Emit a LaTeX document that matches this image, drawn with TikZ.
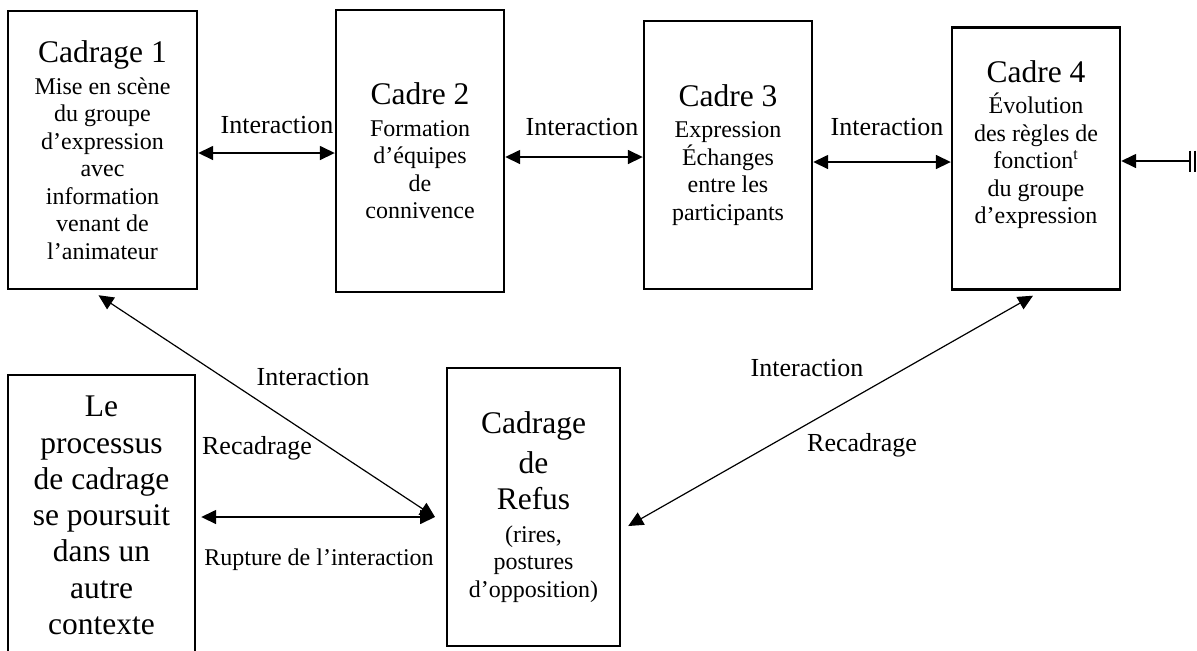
\documentclass[tikz,border=0pt]{standalone}
\usepackage{fontspec}
\setmainfont{Liberation Serif}
\usetikzlibrary{arrows.meta}
\newcommand{\cadretitre}{\fontsize{15.75}{18.15}\selectfont}
\newcommand{\cadretexte}{\fontsize{12}{13.75}\selectfont}
\newcommand{\etiqtexte}{\fontsize{13}{15}\selectfont}
\tikzset{cadre/.style={draw, line width=1.2pt, align=center, inner sep=0pt, font=\cadretexte},
	lien/.style={line width=0.8pt, {Triangle[length=7.5pt,width=7pt]}-{Triangle[length=7.5pt,width=7pt]}},
	fleche/.style={line width=0.8pt, -{Triangle[length=7.5pt,width=7pt]}},
	diag/.style={lien, line width=0.6pt},
	etiq/.style={inner sep=0pt, font=\etiqtexte}}

\begin{document}
\begin{tikzpicture}[x=0.5pt, y=-0.5pt]
		\useasboundingbox (0,0) rectangle (1197,650);
		\clip (0,0) rectangle (1197,650);
		% les cadres du haut
		\node[cadre, minimum width=94.5pt, minimum height=139pt] (b1) at (102.5,150)
			{{\cadretitre Cadrage 1}\\[2pt] Mise en scène\\ du groupe\\ d’expression\\ avec\\ information\\ venant de\\ l’animateur};
		\node[cadre, minimum width=84pt, minimum height=141pt] (b2) at (420,151)
			{{\cadretitre Cadre 2}\\[2pt] Formation\\ d’équipes\\ de\\ connivence};
		\node[cadre, minimum width=84pt, minimum height=134pt] (b3) at (728,155)
			{{\cadretitre Cadre 3}\\[2pt] Expression\\ Échanges\\ entre les\\ participants};
		\node[cadre, minimum width=84pt, minimum height=131pt] (b4) at (1036,158.5) {};
		\node[align=center, inner sep=0pt, font=\cadretexte] (t4) at ([yshift=7pt]b4.center)
			{{\cadretitre Cadre 4}\\[2pt] Évolution\\ des règles de\\ fonction\textsuperscript{t}\\ du groupe\\ d’expression};
		% les cadres du bas
		\node[cadre, font=\cadretitre, minimum width=93.5pt, minimum height=140.5pt] (b5) at (101.5,515.5)
			{Le\\ processus\\ de cadrage\\ se poursuit\\ dans un\\ autre\\ contexte};
		\node[cadre, minimum width=86.5pt, minimum height=139pt] (b6) at (533.5,507)
			{{\cadretitre Cadrage}\\[4.4pt] {\cadretitre de}\\[4.4pt] {\cadretitre Refus}\\[2.7pt] (rires,\\ postures\\ d’opposition)};
		
		\draw[lien] ([yshift=-1.5pt]b1.east) -- ([yshift=-1pt]b2.west);
		\draw[lien] ([yshift=-3pt]b2.east) -- ([yshift=-1pt]b3.west);
		\draw[lien] ([yshift=-3.5pt]b3.east) -- ([yshift=-1.75pt]b4.west);
		\coordinate (bord) at (1190,161);
		\draw[fleche] (bord) -- (bord -| b4.east);
		\draw[line width=0.6pt] ([yshift=5.25pt]bord) -- ([yshift=-5.25pt]bord);
		\draw[line width=0.6pt] ([xshift=2.5pt, yshift=5.25pt]bord) -- ([xshift=2.5pt, yshift=-5.25pt]bord);
		
		\coordinate (refus) at (435,517);
		\draw[lien, shorten <=2.5pt] (b5.east |- refus) -- (refus);
		\draw[diag] ([shift={(-4,5)}]b1.south) -- (refus);
		\draw[diag] ([shift={(-3,5)}]b4.south) -- ([shift={(7,19)}]b6.east);
		
		\node[etiq] (i12) at (277,125) {Interaction};
		\node[etiq] (i23) at (582,127) {Interaction};
		\node[etiq] (i34) at (887,127) {Interaction};
		\node[etiq] (i15) at (313,377) {Interaction};
		\node[etiq] (r15) at (257,448) {Recadrage};
		\node[etiq, font=\cadretexte] (rupt) at (319,560) {Rupture de l’interaction};
		\node[etiq] (i46) at (807,368) {Interaction};
		\node[etiq] (r46) at (862,445) {Recadrage};
		\end{tikzpicture}
\end{document}
